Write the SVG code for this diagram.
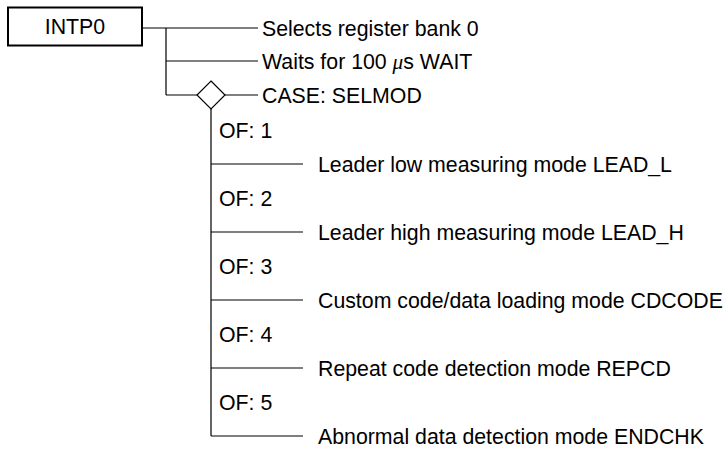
<svg xmlns="http://www.w3.org/2000/svg" width="724" height="451" viewBox="0 0 724 451">
<style>
text{font-family:"Liberation Sans",Arial,sans-serif;font-size:21.3px;fill:#000}
.ln{stroke:#000;stroke-width:1.2;fill:none}
</style>
<rect width="724" height="451" fill="#fff"/>
<g id="connectors">
<path class="ln" d="M142 28H258M166 28V95M166 61H258M166 95H197M225 95H258"/>
<path class="ln" d="M211 109V436M211 164H303M211 232H303M211 300H303M211 368H303M211 436H303"/>
</g>
<g id="intp0">
<rect x="8" y="7.5" width="134" height="38" fill="#fff" stroke="#000" stroke-width="2"/>
<text x="75" y="34" text-anchor="middle">INTP0</text>
</g>
<g id="bank"><text x="262" y="35.5">Selects register bank 0</text></g>
<g id="wait"><text x="262" y="68.5">Waits for 100 <tspan font-family="'Liberation Serif',serif" font-style="italic">μ</tspan>s WAIT</text></g>
<g id="case">
<path class="ln" d="M211 81L225 95L211 109L197 95Z" fill="#fff"/>
<text x="262" y="102.5">CASE: SELMOD</text>
</g>
<g id="of1"><text x="219" y="137.5">OF: 1</text><text x="318" y="171.5">Leader low measuring mode LEAD_L</text></g>
<g id="of2"><text x="219" y="205.5">OF: 2</text><text x="318" y="239.5">Leader high measuring mode LEAD_H</text></g>
<g id="of3"><text x="219" y="273.5">OF: 3</text><text x="318" y="307.5">Custom code/data loading mode CDCODE</text></g>
<g id="of4"><text x="219" y="341.5">OF: 4</text><text x="318" y="375.5">Repeat code detection mode REPCD</text></g>
<g id="of5"><text x="219" y="409.5">OF: 5</text><text x="318" y="443.5">Abnormal data detection mode ENDCHK</text></g>
</svg>
